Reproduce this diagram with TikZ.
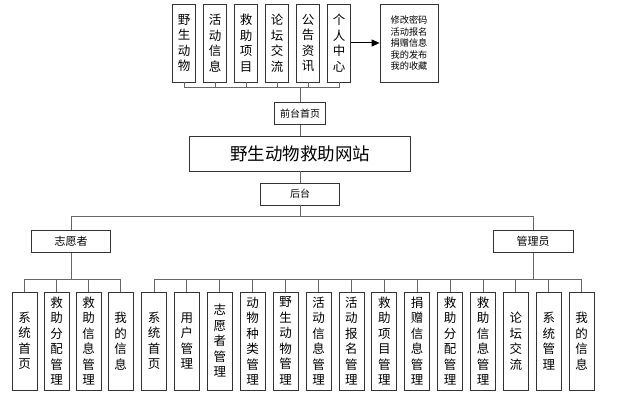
\documentclass[tikz,border=0pt]{standalone}
\usepackage{fontspec}
\newfontfamily\cjk{Noto Sans CJK SC}
\usetikzlibrary{arrows.meta,positioning}

\begin{document}
\begin{tikzpicture}[
  x=1pt, y=-1pt,
  box/.style={draw=black!80, line width=0.8pt, fill=white, inner sep=0pt, align=center},
  smallbox/.style={box, minimum width=#1, minimum height=22pt, font=\cjk\fontsize{10}{12}\selectfont},
  vbox/.style={box, minimum width=25pt, minimum height=#1, font=\cjk\fontsize{12.5}{15.5}\selectfont},
  link/.style={draw=black!60, line width=1pt},
  arrow/.style={-{Triangle[length=8pt,width=7pt]}, draw=black, line width=1pt}
]
  \useasboundingbox[fill=white] (0,0) rectangle (621,401);

  % Front menu
  \foreach \i/\t in {0/{野\\生\\动\\物}, 1/{活\\动\\信\\息}, 2/{救\\助\\项\\目},
                     3/{论\\坛\\交\\流}, 4/{公\\告\\资\\讯}, 5/{个\\人\\中\\心}} {
    \node[vbox=78pt, minimum width=23pt] (t\i) at (184+31*\i, 43) {\t};
  }
  \node[box, minimum width=58pt, minimum height=78pt, font=\cjk\fontsize{9.2}{11.5}\selectfont]
    (mine) at (409, 43) {修改密码\\活动报名\\捐赠信息\\我的发布\\我的收藏};
  \draw[arrow] (t5.east) -- (mine.west);

  % Main spine
  \coordinate (tbus) at (300, 88);
  \node[smallbox=51pt] (front) at (300, 113.5) {前台首页};
  \node[box, minimum width=221pt, minimum height=35pt, font=\cjk\fontsize{17.5}{20}\selectfont]
    (site) at (300, 153.5) {野生动物救助网站};
  \node[smallbox=79pt] (back) at (300, 194) {后台};
  \coordinate (bbus) at (300, 216);

  \foreach \i in {0,...,5} {
    \draw[link] (t\i.south) |- (tbus);
  }
  \draw[link] (tbus) -- (front.north);
  \draw[link] (front) -- (site);
  \draw[link] (site) -- (back);
  \draw[link] (back) -- (bbus);

  % Roles
  \node[smallbox=79pt, font=\cjk\fontsize{11}{13}\selectfont] (vol) at (71, 241.5) {志愿者};
  \node[smallbox=80pt, font=\cjk\fontsize{11}{13}\selectfont] (adm) at (533, 241.5) {管理员};
  \draw[link] (bbus) -| (vol.north);
  \draw[link] (bbus) -| (adm.north);

  % Volunteer functions
  \coordinate (vbus) at (71, 279);
  \draw[link] (vol.south) -- (vbus);
  \foreach \i/\t in {0/{系\\统\\首\\页}, 1/{救\\助\\分\\配\\管\\理},
                     2/{救\\助\\信\\息\\管\\理}, 3/{我\\的\\信\\息}} {
    \node[vbox=98pt] (v\i) at (24.5+32*\i, 341) {\t};
    \draw[link] (vbus) -| (v\i.north);
  }

  % Admin functions
  \coordinate (abus) at (533, 279);
  \draw[link] (adm.south) -- (abus);
  \foreach \i/\t in {0/{系\\统\\首\\页}, 1/{用\\户\\管\\理}, 2/{志\\愿\\者\\管\\理},
                     3/{动\\物\\种\\类\\管\\理}, 4/{野\\生\\动\\物\\管\\理},
                     5/{活\\动\\信\\息\\管\\理}, 6/{活\\动\\报\\名\\管\\理},
                     7/{救\\助\\项\\目\\管\\理}, 8/{捐\\赠\\信\\息\\管\\理},
                     9/{救\\助\\分\\配\\管\\理}, 10/{救\\助\\信\\息\\管\\理},
                     11/{论\\坛\\交\\流}, 12/{系\\统\\管\\理}, 13/{我\\的\\信\\息}} {
    \node[vbox=98pt] (a\i) at (154+32.9*\i, 341) {\t};
    \draw[link] (abus) -| (a\i.north);
  }
\end{tikzpicture}
\end{document}
